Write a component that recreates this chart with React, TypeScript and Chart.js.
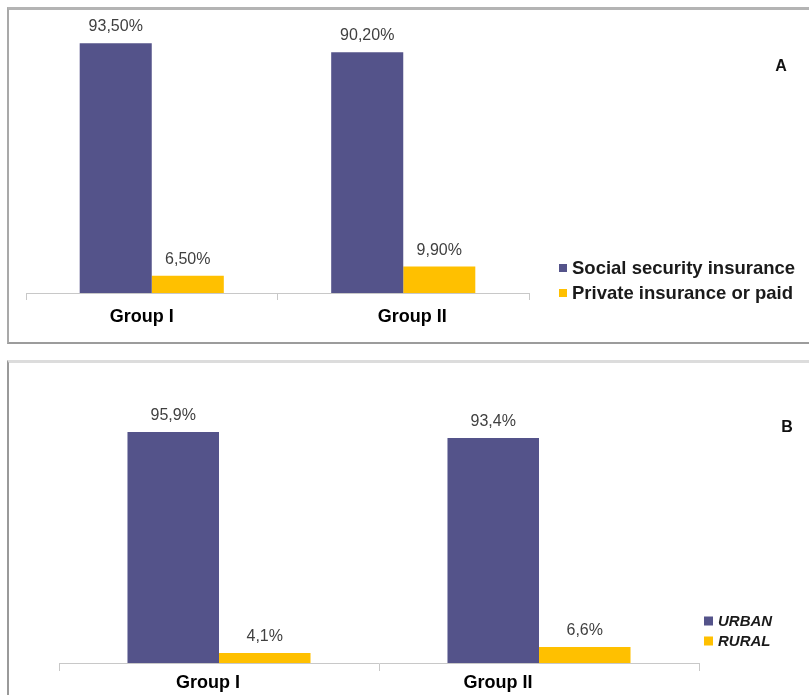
import React, { useEffect, useRef } from "react";
import { Chart, registerables } from "chart.js";

Chart.register(...registerables);

// Category axis shared by both panels
const groups = ["Group I", "Group II"];

// Panel A: type of health insurance (%)
const insuranceLabels = ["Social security insurance", "Private insurance or paid"];
const socialSecurity = [93.5, 90.2];
const privateOrPaid = [6.5, 9.9];

// Panel B: place of residence (%)
const residenceLabels = ["URBAN", "RURAL"];
const urban = [95.9, 93.4];
const rural = [4.1, 6.6];

const NAVY = "#54538A";
const GOLD = "#FFC000";
const FONT = "'Liberation Sans', Arial, sans-serif";

type PanelSetup = {
  decimals: number;
  letter: string;
  letterPos: [number, number];
  legendX: number;
  legendRows: number[];
  legendBox: number;
  legendFont: string;
  groupLabelY: number;
  groupLabelShift: number[];
};

// Value labels, category labels, panel letter and a free-standing legend
function overlayPlugin(s: PanelSetup) {
  return {
    id: "panelOverlay",
    afterDatasetsDraw(chart: any) {
      const ctx = chart.ctx as CanvasRenderingContext2D;
      ctx.save();
      ctx.font = `16px ${FONT}`;
      ctx.fillStyle = "#404040";
      ctx.textAlign = "center";
      ctx.textBaseline = "alphabetic";
      chart.data.datasets.forEach((ds: any, i: number) => {
        chart.getDatasetMeta(i).data.forEach((bar: any, j: number) => {
          const v = ds.data[j] as number;
          const text = v.toFixed(s.decimals).replace(".", ",") + "%";
          ctx.fillText(text, bar.x, bar.y - 12);
        });
      });

      // category names under the axis
      const xScale = chart.scales.x;
      ctx.font = `bold 18px ${FONT}`;
      ctx.fillStyle = "#000";
      ctx.textBaseline = "middle";
      chart.data.labels.forEach((name: string, i: number) => {
        const x = xScale.getPixelForTick(i) + (s.groupLabelShift[i] || 0);
        ctx.fillText(name, x, s.groupLabelY);
      });

      // panel letter
      ctx.font = `bold 16px ${FONT}`;
      ctx.fillStyle = "#111";
      ctx.fillText(s.letter, s.letterPos[0], s.letterPos[1]);

      // legend
      ctx.textAlign = "left";
      ctx.font = s.legendFont;
      chart.data.datasets.forEach((ds: any, i: number) => {
        const y = s.legendRows[i];
        ctx.fillStyle = ds.backgroundColor;
        ctx.fillRect(s.legendX, y - s.legendBox / 2, s.legendBox, s.legendBox);
        ctx.fillStyle = "#1a1a1a";
        ctx.fillText(ds.label, s.legendX + s.legendBox + 5, y + 1);
      });
      ctx.restore();
    },
  };
}

function makeConfig(
  labels: string[],
  a: number[],
  b: number[],
  padding: { left: number; right: number; top: number; bottom: number },
  catPct: number,
  tickLength: number,
  axisHeight: number,
  setup: PanelSetup
): any {
  return {
    type: "bar",
    data: {
      labels: groups,
      datasets: [
        { label: labels[0], data: a, backgroundColor: NAVY },
        { label: labels[1], data: b, backgroundColor: GOLD },
      ],
    },
    options: {
      animation: false,
      responsive: false,
      maintainAspectRatio: false,
      devicePixelRatio: 1,
      layout: { padding },
      datasets: { bar: { categoryPercentage: catPct, barPercentage: 1 } },
      plugins: { legend: { display: false }, tooltip: { enabled: false } },
      scales: {
        x: {
          grid: {
            display: true,
            drawOnChartArea: false,
            drawTicks: true,
            tickLength,
            color: "#c8c8c8",
            offset: true,
          },
          border: { display: true, color: "#c8c8c8", width: 1 },
          ticks: { display: false },
          afterFit: (scale: any) => {
            scale.height = axisHeight;
          },
        },
        y: { display: false, min: 0, max: 100 },
      },
    },
    plugins: [overlayPlugin(setup)],
  };
}

function ChartCanvas({ top, height, config }: { top: number; height: number; config: any }) {
  const ref = useRef<HTMLCanvasElement | null>(null);
  useEffect(() => {
    if (!ref.current) return;
    const chart = new Chart(ref.current, config);
    return () => chart.destroy();
  }, []);
  return (
    <canvas
      ref={ref}
      width={809}
      height={height}
      style={{ position: "absolute", left: 0, top, width: 809, height }}
    />
  );
}

export default function App() {
  const configA = makeConfig(
    insuranceLabels,
    socialSecurity,
    privateOrPaid,
    { left: 26, right: 280, top: 26, bottom: 12 },
    0.573,
    7,
    40,
    {
      decimals: 2,
      letter: "A",
      letterPos: [781, 67],
      legendX: 559,
      legendRows: [268, 293],
      legendBox: 8,
      legendFont: `bold 18.5px ${FONT}`,
      groupLabelY: 317,
      groupLabelShift: [-10, 9],
    }
  );
  const configB = makeConfig(
    residenceLabels,
    urban,
    rural,
    { left: 59, right: 110, top: 72, bottom: 2 },
    0.572,
    8,
    30,
    {
      decimals: 1,
      letter: "B",
      letterPos: [787, 78],
      legendX: 704,
      legendRows: [271, 291],
      legendBox: 9,
      legendFont: `italic bold 15px ${FONT}`,
      groupLabelY: 333,
      groupLabelShift: [-11, -41],
    }
  );

  return (
    <div
      style={{
        position: "absolute",
        left: 0,
        top: 0,
        width: 809,
        height: 695,
        background: "#fff",
        overflow: "hidden",
      }}
    >
      <div
        style={{
          position: "absolute",
          left: 7,
          top: 7,
          width: 802,
          height: 337,
          boxSizing: "border-box",
          borderTop: "3px solid #b4b4b4",
          borderLeft: "2px solid #a9a9a9",
          borderBottom: "2px solid #9c9c9c",
        }}
      />
      <div
        style={{
          position: "absolute",
          left: 7,
          top: 360,
          width: 802,
          height: 340,
          boxSizing: "border-box",
          borderTop: "3px solid #dcdcdc",
          borderLeft: "2px solid #9a9a9a",
        }}
      />
      <ChartCanvas top={0} height={345} config={configA} />
      <ChartCanvas top={350} height={345} config={configB} />
    </div>
  );
}
